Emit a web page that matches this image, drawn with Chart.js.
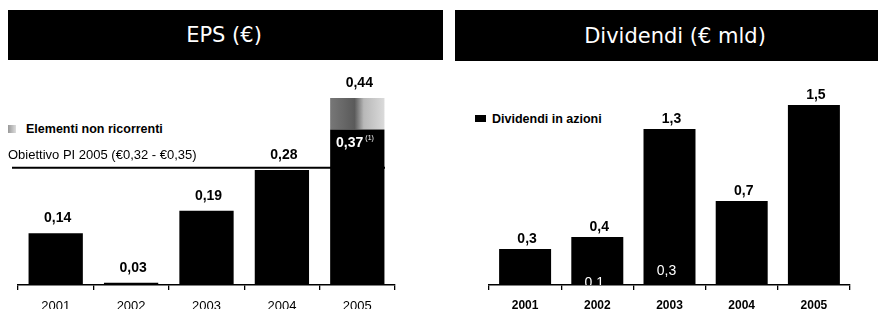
<!DOCTYPE html>
<html>
<head>
<meta charset="utf-8">
<script src="https://cdn.jsdelivr.net/npm/chart.js@4.4.1/dist/chart.umd.min.js"></script>
<style>
  html, body { margin: 0; padding: 0; background: #fff; }
  body { width: 878px; height: 309px; overflow: hidden; position: relative; font-family: "Liberation Sans", Arial, sans-serif; }
  .banner { position: absolute; background: #000; }
  .banner span { position: absolute; top: 50%; transform: translate(-50%, -50%); color: #fff; font-family: "DejaVu Sans", sans-serif; font-size: 21px; white-space: nowrap; }
  .legend { position: absolute; font-weight: bold; color: #000; white-space: nowrap; font-family: "Liberation Sans", Arial, sans-serif; }
  .legend i { display: inline-block; vertical-align: middle; margin-right: 8px; position: relative; top: -1px; }
  canvas { position: absolute; top: 0; }
</style>
</head>
<body>
<div class="banner" style="left:8px;top:10px;width:435px;height:50px;"><span style="left:216px;">EPS (€)</span></div>
<div class="banner" style="left:455px;top:10px;width:423px;height:51px;"><span style="left:220px;">Dividendi (€ mld)</span></div>

<div class="legend" style="left:8px;top:122px;font-size:12.5px;"><i style="width:8px;height:8px;background:linear-gradient(90deg,#999,#ddd);margin-right:10px;"></i>Elementi non ricorrenti</div>
<div class="legend" style="left:475px;top:112px;font-size:12.5px;"><i style="width:11px;height:7px;background:#000;margin-right:6px;"></i>Dividendi in azioni</div>

<div style="position:absolute;left:0;top:0;width:440px;height:320px;"><canvas id="epsChart"></canvas></div>
<div style="position:absolute;left:440px;top:0;width:438px;height:320px;"><canvas id="divChart"></canvas></div>

<script>
const years = ["2001", "2002", "2003", "2004", "2005"];

// EPS (€)
const epsRicorrenti = [0.14, 0.03, 0.19, 0.28, 0.37];
const epsNonRicorrenti = [0, 0, 0, 0, 0.07];
const epsTotalLabels = ["0,14", "0,03", "0,19", "0,28", "0,44"];
const epsTarget = 0.285;
const epsTargetLabel = "Obiettivo PI 2005 (€0,32 - €0,35)";

// Dividendi (€ mld)
const divTotali = [0.3, 0.4, 1.3, 0.7, 1.5];
const divAzioni = [0, 0.1, 0.3, 0, 0];
const divTotalLabels = ["0,3", "0,4", "1,3", "0,7", "1,5"];
const divAzioniLabels = ["", "0,1", "0,3", "", ""];

const FONT = "'Liberation Sans', Arial, sans-serif";

function xAxis(fontSize, weight, pad) {
  return {
    stacked: true,
    grid: { offset: true, drawOnChartArea: false, color: "#000", tickLength: 5, lineWidth: 1.3 },
    border: { color: "#000", width: 1.5 },
    ticks: { color: "#000", padding: pad, font: { family: FONT, size: fontSize, weight: weight } },
    afterFit(scale) {
      scale.height = 24;
    },
  };
}

// ▼ valori sopra le barre
const totalLabels = {
  id: "totalLabels",
  afterDatasetsDraw(chart, args, opts) {
    const { ctx } = chart;
    const last = chart.getDatasetMeta(chart.data.datasets.length - 1);
    ctx.save();
    ctx.fillStyle = "#000";
    ctx.font = `bold 14px ${FONT}`;
    ctx.textAlign = "center";
    ctx.textBaseline = "middle";
    last.data.forEach((bar, i) => {
      const total = chart.data.datasets.reduce((s, d) => s + d.data[i], 0);
      const y = chart.scales.y.getPixelForValue(total);
      ctx.fillText(opts.labels[i], bar.x + 2, y - opts.offset);
    });
    ctx.restore();
  },
};

// ▼ linea obiettivo
const targetLine = {
  id: "targetLine",
  afterDatasetsDraw(chart) {
    const { ctx, chartArea } = chart;
    const y = chart.scales.y.getPixelForValue(epsTarget);
    ctx.save();
    ctx.strokeStyle = "#000";
    ctx.lineWidth = 2;
    ctx.beginPath();
    ctx.moveTo(chartArea.left - 6, y);
    ctx.lineTo(chartArea.right - 10, y);
    ctx.stroke();
    ctx.fillStyle = "#000";
    ctx.font = `13px ${FONT}`;
    ctx.textBaseline = "middle";
    ctx.fillText(epsTargetLabel, 8, y - 12);

    // 0,37 (1) dentro la barra 2005
    const bar = chart.getDatasetMeta(0).data[4];
    const yy = chart.scales.y.getPixelForValue(epsRicorrenti[4]) + 14;
    ctx.fillStyle = "#fff";
    ctx.font = `bold 14px ${FONT}`;
    ctx.textAlign = "right";
    ctx.fillText("0,37", bar.x + 6, yy);
    ctx.font = `7px ${FONT}`;
    ctx.textAlign = "left";
    ctx.fillText("(1)", bar.x + 8, yy - 5);
    ctx.restore();
  },
};

// ▼ valori dividendi in azioni (bianco)
const innerLabels = {
  id: "innerLabels",
  afterDatasetsDraw(chart) {
    const { ctx, chartArea } = chart;
    const meta = chart.getDatasetMeta(0);
    ctx.save();
    ctx.beginPath();
    ctx.rect(chartArea.left, chartArea.top, chartArea.width, chartArea.height);
    ctx.clip();
    ctx.fillStyle = "#fff";
    ctx.font = `14px ${FONT}`;
    ctx.textAlign = "center";
    ctx.textBaseline = "middle";
    meta.data.forEach((bar, i) => {
      if (!divAzioniLabels[i]) return;
      const y = chart.scales.y.getPixelForValue(divAzioni[i] / 2) + 4;
      ctx.fillText(divAzioniLabels[i], bar.x - 3, y);
    });
    ctx.restore();
  },
};

function greyFill(context) {
  const chart = context.chart;
  if (!chart.chartArea || !chart.scales.x) return "#999";
  const cx = chart.scales.x.getPixelForValue(4);
  const g = chart.ctx.createLinearGradient(cx - 27, 0, cx + 27, 0);
  g.addColorStop(0, "#777");
  g.addColorStop(0.45, "#5a5a5a");
  g.addColorStop(0.62, "#b8b8b8");
  g.addColorStop(1, "#dadada");
  return g;
}

const barSize = { categoryPercentage: 1, barPercentage: 0.72 };

new Chart(document.getElementById("epsChart"), {
  type: "bar",
  data: {
    labels: years,
    datasets: [
      { label: "EPS", data: epsRicorrenti, backgroundColor: "#000", ...barSize },
      { label: "Elementi non ricorrenti", data: epsNonRicorrenti, backgroundColor: greyFill, ...barSize },
    ],
  },
  options: {
    responsive: true,
    maintainAspectRatio: false,
    animation: false,
    layout: { padding: { left: 18, right: 45, top: 80, bottom: 11 } },
    plugins: {
      legend: { display: false },
      tooltip: { enabled: false },
      totalLabels: { labels: epsTotalLabels, offset: 15 },
    },
    scales: {
      x: xAxis(13, "normal", 9),
      y: { display: false, stacked: true, min: 0.025, max: 0.48 },
    },
  },
  plugins: [totalLabels, targetLine],
});

new Chart(document.getElementById("divChart"), {
  type: "bar",
  data: {
    labels: years,
    datasets: [
      { label: "Dividendi", data: divTotali, backgroundColor: "#000", ...barSize },
    ],
  },
  options: {
    responsive: true,
    maintainAspectRatio: false,
    animation: false,
    layout: { padding: { left: 49, right: 28, top: 75, bottom: 11 } },
    plugins: {
      legend: { display: false },
      tooltip: { enabled: false },
      totalLabels: { labels: divTotalLabels, offset: 10 },
    },
    scales: {
      x: xAxis(12, "bold", 8),
      y: { display: false, min: 0, max: 1.75 },
    },
  },
  plugins: [totalLabels, innerLabels],
});
</script>
</body>
</html>
